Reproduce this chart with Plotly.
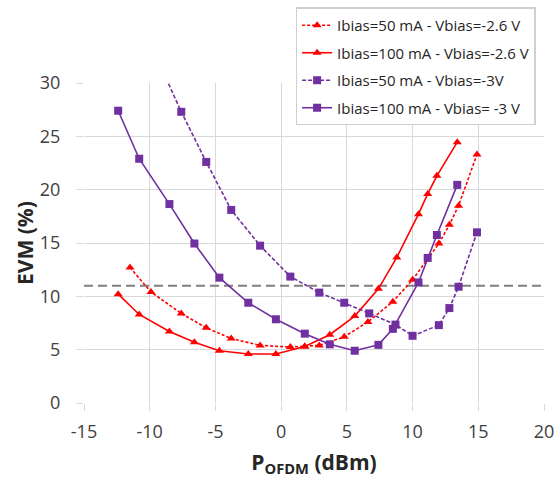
import plotly.graph_objects as go

# Data
x_50_26 = [-11.5, -9.9, -7.6, -5.7, -3.8, -1.6, 0.7, 1.8, 2.9, 4.8, 6.6, 8.5, 10.0, 12.0, 12.8, 13.5, 14.9]
y_50_26 = [12.7, 10.4, 8.4, 7.05, 6.05, 5.4, 5.25, 5.3, 5.4, 6.2, 7.6, 9.5, 11.55, 14.95, 16.7, 18.5, 23.3]

x_100_26 = [-12.4, -10.8, -8.5, -6.6, -4.7, -2.5, -0.4, 1.8, 3.7, 5.6, 7.4, 8.8, 10.45, 11.15, 11.85, 13.4]
y_100_26 = [10.2, 8.3, 6.7, 5.7, 4.9, 4.6, 4.6, 5.3, 6.4, 8.15, 10.7, 13.65, 17.7, 19.6, 21.3, 24.45]

x_50_3 = [-9.7, -7.6, -5.7, -3.8, -1.6, 0.7, 2.9, 4.8, 6.7, 8.7, 10.0, 12.0, 12.8, 13.5, 14.9]
y_50_3 = [33.0, 27.3, 22.6, 18.1, 14.75, 11.85, 10.35, 9.4, 8.4, 7.35, 6.3, 7.3, 8.9, 10.9, 16.0]

x_100_3 = [-12.4, -10.8, -8.5, -6.6, -4.7, -2.5, -0.4, 1.8, 3.7, 5.6, 7.4, 8.5, 10.45, 11.15, 11.85, 13.4]
y_100_3 = [27.4, 22.9, 18.65, 14.95, 11.75, 9.4, 7.85, 6.5, 5.5, 4.9, 5.45, 6.95, 11.3, 13.6, 15.75, 20.45]

threshold_x = [-15, 20]
threshold_y = [11, 11]

x_ticks = [-15, -10, -5, 0, 5, 10, 15, 20]
x_tick_labels = ["-15", "-10", "-5", "0", "5", "10", "15", "20"]
y_ticks = [0, 5, 10, 15, 20, 25, 30]

names = ["Ibias=50 mA - Vbias=-2.6 V", "Ibias=100 mA - Vbias=-2.6 V",
         "Ibias=50 mA - Vbias=-3V", "Ibias=100 mA - Vbias= -3 V"]

RED = "#FF0000"
PURPLE = "#7030A0"
GRID = "#d9d9d9"

fig = go.Figure()

fig.add_trace(go.Scatter(x=threshold_x, y=threshold_y, mode="lines",
                         line=dict(color="#7f7f7f", width=2, dash="9px,5px"),
                         showlegend=False, hoverinfo="skip"))

series = [
    (x_50_26, y_50_26, names[0], RED, "3px,2px", "triangle-up"),
    (x_100_26, y_100_26, names[1], RED, "solid", "triangle-up"),
    (x_50_3, y_50_3, names[2], PURPLE, "4px,2px", "square"),
    (x_100_3, y_100_3, names[3], PURPLE, "solid", "square"),
]
for i, (xs, ys, nm, col, dash, sym) in enumerate(series):
    fig.add_trace(go.Scatter(x=xs, y=ys, name=nm, mode="lines+markers",
                             legendgroup=f"g{i}",
                             line=dict(color=col, width=1.6, dash=dash),
                             marker=dict(symbol=sym, size=8, color=col)))

fig.update_layout(
    width=554, height=478,
    margin=dict(l=84, r=10, t=83, b=75, autoexpand=False),
    paper_bgcolor="white", plot_bgcolor="white",
    font=dict(family="Open Sans, Liberation Sans, sans-serif", color="#404040"),
    legend=dict(x=0.46, y=1.236, xanchor="left", yanchor="top",
                bordercolor="#d0d0d0", borderwidth=1.5, bgcolor="white",
                font=dict(size=15, color="#262626"),
                tracegroupgap=5, itemwidth=30),
    xaxis=dict(range=[-15, 20], tickvals=x_ticks, ticktext=x_tick_labels,
               automargin=False, ticklabeloverflow="allow",
               showgrid=True, gridcolor=GRID, gridwidth=1,
               zeroline=False, showline=False,
               ticks="outside", ticklen=7, tickcolor=GRID,
               ticklabelstandoff=5,
               tickfont=dict(size=18, color="#404040"),
               title=dict(text="<b>P<sub>OFDM</sub> (dBm)</b>", font=dict(size=21, color="#262626"),
                          standoff=16)),
    yaxis=dict(range=[0, 30], tickvals=y_ticks,
               automargin=False,
               showgrid=True, gridcolor=GRID, gridwidth=1,
               zeroline=False, showline=False,
               ticks="outside", ticklen=7, tickcolor=GRID,
               ticklabelstandoff=12,
               tickfont=dict(size=18, color="#404040"),
               title=dict(text="<b>EVM (%)</b>", font=dict(size=21, color="#262626"),
                          standoff=0)),
)

fig.write_html("out.html", config={"displayModeBar": False},
               post_script="document.body.style.margin='0';")
